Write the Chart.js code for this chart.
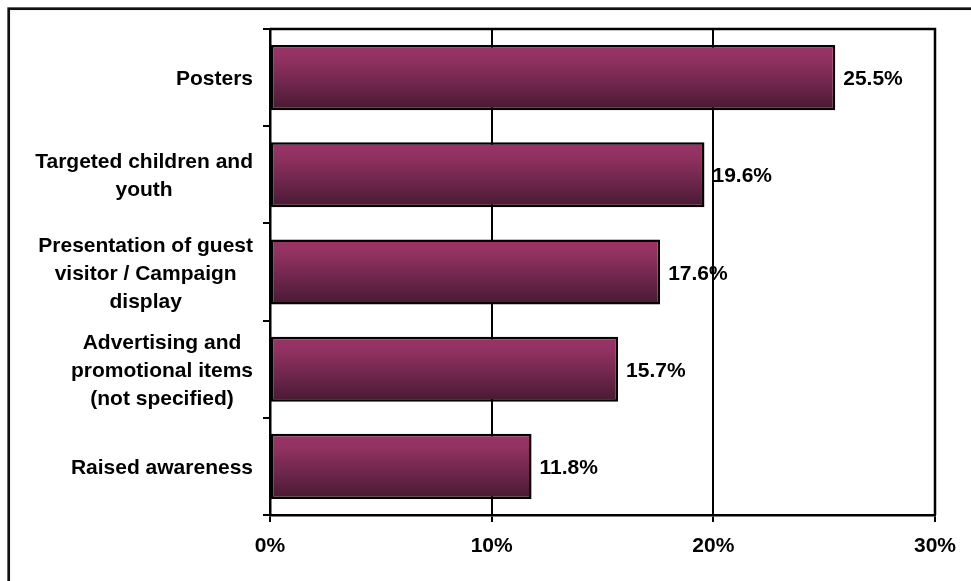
<!DOCTYPE html>
<html>
<head>
<meta charset="utf-8">
<title>Campaign activities</title>
<script src="https://cdn.jsdelivr.net/npm/chart.js@4/dist/chart.umd.min.js"></script>
<style>
  html, body { margin: 0; padding: 0; background: #fff; }
  #wrap { width: 971px; height: 581px; position: relative; }
</style>
</head>
<body>
<div id="wrap"><canvas id="chart" width="971" height="581"></canvas></div>
<script>
// Categories (each entry is the list of lines shown for that category)
const categories = [
  ['Posters'],
  ['Targeted children and', 'youth'],
  ['Presentation of guest', 'visitor / Campaign', 'display'],
  ['Advertising and', 'promotional items', '(not specified)'],
  ['Raised awareness']
];
// Share of responses, in percent
const shares = [25.5, 19.6, 17.6, 15.7, 11.8];
// Value axis ticks
const axisMin = 0;
const axisMax = 30;
const axisStep = 10;

const FONT_FAMILY = "'Liberation Sans', Arial, Helvetica, sans-serif";
const FONT_SIZE = 21;
const LINE_GAP = 28;
const BAR_FRACTION = 0.67;

// Plum bar fill, lighter at the top edge and darker toward the bottom
function barGradient(ctx) {
  const chart = ctx.chart;
  const yScale = chart.scales.y;
  const area = chart.chartArea;
  if (!area || !yScale || ctx.dataIndex === undefined) return '#993366';
  const band = (area.bottom - area.top) / categories.length;
  const c = yScale.getPixelForValue(ctx.dataIndex);
  const top = c - band * BAR_FRACTION / 2;
  const bottom = c + band * BAR_FRACTION / 2;
  const g = chart.ctx.createLinearGradient(0, top, 0, bottom);
  g.addColorStop(0, '#9a3466');
  g.addColorStop(0.2, '#933262');
  g.addColorStop(0.6, '#6e264c');
  g.addColorStop(1, '#481932');
  return g;
}

// Outer frame, plot box, category labels and value labels
const decorations = {
  id: 'decorations',
  beforeDraw(chart) {
    const c = chart.ctx;
    c.save();
    c.fillStyle = '#fff';
    c.fillRect(0, 0, chart.width, chart.height);
    c.strokeStyle = '#111';
    c.lineWidth = 2.7;
    c.strokeRect(8.7, 8.7, chart.width + 50, chart.height + 50);
    c.restore();
  },
  afterDatasetsDraw(chart) {
    const c = chart.ctx;
    const area = chart.chartArea;
    const yScale = chart.scales.y;
    c.save();
    // plot box (top and right edges)
    c.strokeStyle = '#000';
    c.lineWidth = 2.5;
    c.beginPath();
    c.moveTo(area.left, area.top);
    c.lineTo(area.right, area.top);
    c.lineTo(area.right, area.bottom);
    c.stroke();

    c.fillStyle = '#000';
    c.font = 'bold ' + FONT_SIZE + 'px ' + FONT_FAMILY;

    // category labels: block right-aligned beside the axis, lines centred within the block
    const rightEdge = yScale.right - 17;
    const capShift = FONT_SIZE * 0.358;
    c.textBaseline = 'alphabetic';
    c.textAlign = 'center';
    categories.forEach((lines, i) => {
      const widest = Math.max(...lines.map(l => c.measureText(l).width));
      const cx = rightEdge - widest / 2;
      const cy = yScale.getPixelForValue(i);
      lines.forEach((line, k) => {
        const y = cy + (k - (lines.length - 1) / 2) * LINE_GAP + capShift;
        c.fillText(line, cx, y);
      });
    });

    // value labels at the end of each bar
    const meta = chart.getDatasetMeta(0);
    c.textAlign = 'left';
    meta.data.forEach((bar, i) => {
      c.fillText(shares[i].toFixed(1) + '%', bar.x + 8, bar.y + capShift);
    });
    c.restore();
  }
};

new Chart(document.getElementById('chart'), {
  type: 'bar',
  data: {
    labels: categories,
    datasets: [{
      data: shares,
      backgroundColor: barGradient,
      borderColor: '#000',
      borderWidth: 2.5,
      borderSkipped: false,
      barPercentage: BAR_FRACTION,
      categoryPercentage: 1
    }]
  },
  options: {
    indexAxis: 'y',
    responsive: false,
    devicePixelRatio: 1,
    animation: false,
    layout: { padding: { top: 29, right: 36, left: 0, bottom: 0 } },
    plugins: {
      legend: { display: false },
      tooltip: { enabled: false }
    },
    scales: {
      x: {
        min: axisMin,
        max: axisMax,
        ticks: {
          stepSize: axisStep,
          callback: v => v + '%',
          color: '#000',
          padding: 12,
          font: { family: FONT_FAMILY, size: FONT_SIZE, weight: 'bold' }
        },
        grid: { color: '#000', lineWidth: 2, tickLength: 7 },
        border: { display: true, color: '#000', width: 2.5 },
        afterFit(scale) { scale.height = 66; }
      },
      y: {
        type: 'category',
        ticks: { display: false },
        grid: { drawOnChartArea: false, color: '#000', lineWidth: 2, tickLength: 7, offset: true },
        border: { display: true, color: '#000', width: 2.5 },
        afterFit(scale) { scale.width = 270; }
      }
    }
  },
  plugins: [decorations]
});
</script>
</body>
</html>
